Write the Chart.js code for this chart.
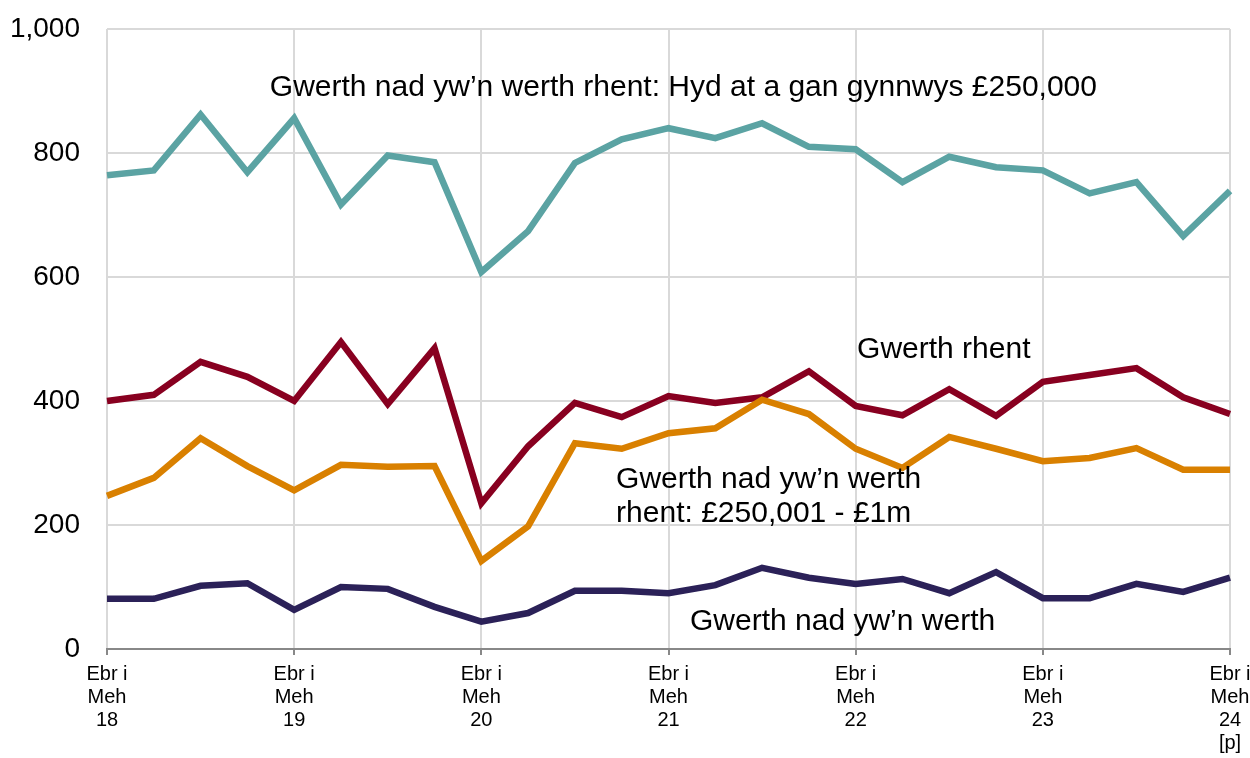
<!DOCTYPE html>
<html>
<head>
<meta charset="utf-8">
<script src="https://cdn.jsdelivr.net/npm/chart.js@4"></script>
<style>
  html, body { margin: 0; padding: 0; background: #fff; }
  #wrap { width: 1250px; height: 758px; }
</style>
</head>
<body>
<div id="wrap"><canvas id="chart" width="1250" height="758"></canvas></div>
<script>
// Quarters: Ebr i Meh 18 ... Ebr i Meh 24 [p]
const quarters = [
  'Ebr i Meh 18', 'Gor i Med 18', 'Hyd i Rha 18', 'Ion i Maw 19',
  'Ebr i Meh 19', 'Gor i Med 19', 'Hyd i Rha 19', 'Ion i Maw 20',
  'Ebr i Meh 20', 'Gor i Med 20', 'Hyd i Rha 20', 'Ion i Maw 21',
  'Ebr i Meh 21', 'Gor i Med 21', 'Hyd i Rha 21', 'Ion i Maw 22',
  'Ebr i Meh 22', 'Gor i Med 22', 'Hyd i Rha 22', 'Ion i Maw 23',
  'Ebr i Meh 23', 'Gor i Med 23', 'Hyd i Rha 23', 'Ion i Maw 24',
  'Ebr i Meh 24 [p]'
];

const tickLabels = {
  0: ['Ebr i', 'Meh', '18'],
  4: ['Ebr i', 'Meh', '19'],
  8: ['Ebr i', 'Meh', '20'],
  12: ['Ebr i', 'Meh', '21'],
  16: ['Ebr i', 'Meh', '22'],
  20: ['Ebr i', 'Meh', '23'],
  24: ['Ebr i', 'Meh', '24', '[p]']
};

const upTo250k = [764, 772, 862, 769, 856, 717, 796, 785, 608, 674, 784, 822, 840, 824, 848, 810, 806, 753, 794, 777, 772, 735, 753, 666, 739];
const rent = [400, 410, 463, 439, 400, 495, 395, 485, 235, 327, 397, 374, 408, 397, 406, 448, 392, 377, 419, 376, 431, 442, 453, 406, 379];
const from250kTo1m = [247, 276, 340, 295, 256, 297, 294, 295, 142, 198, 332, 323, 348, 356, 402, 379, 323, 292, 342, 323, 303, 308, 324, 289, 289];
const nonRent = [81, 81, 102, 106, 63, 100, 97, 68, 44, 58, 94, 94, 90, 103, 131, 115, 105, 113, 90, 124, 82, 82, 105, 92, 115];

const yTicks = [0, 200, 400, 600, 800, 1000];

// series labels placed on the plot (index along x, value along y)
const seriesLabels = [
  { lines: ['Gwerth nad yw\u2019n werth rhent: Hyd at a gan gynnwys \u00a3250,000'], at: 3.48, value: 905 },
  { lines: ['Gwerth rhent'], at: 16.03, value: 482 },
  { lines: ['Gwerth nad yw\u2019n werth', 'rhent: \u00a3250,001 - \u00a31m'], at: 10.88, value: 273 },
  { lines: ['Gwerth nad yw\u2019n werth'], at: 12.46, value: 44 }
];

const FONT = '"Liberation Sans", Arial, sans-serif';
const GRID = '#d9d9d9';

const labelPlugin = {
  id: 'seriesLabels',
  afterDatasetsDraw(chart) {
    const { ctx, scales: { x, y } } = chart;
    ctx.save();
    ctx.font = '30px ' + FONT;
    ctx.fillStyle = '#000';
    ctx.textAlign = 'left';
    ctx.textBaseline = 'middle';
    const lineGap = 34;
    seriesLabels.forEach((l) => {
      const px = x.getPixelForValue(l.at);
      const py = y.getPixelForValue(l.value);
      l.lines.forEach((t, i) => ctx.fillText(t, px, py + i * lineGap));
    });
    ctx.restore();
  }
};

const line = (data, color) => ({
  data,
  borderColor: color,
  backgroundColor: color,
  borderWidth: 6.5,
  pointRadius: 0,
  tension: 0,
  borderJoinStyle: 'miter',
  fill: false
});

new Chart(document.getElementById('chart'), {
  type: 'line',
  data: {
    labels: quarters,
    datasets: [
      line(upTo250k, '#5ba3a3'),
      line(nonRent, '#2b2158'),
      line(from250kTo1m, '#d98000'),
      line(rent, '#880020')
    ]
  },
  options: {
    responsive: false,
    animation: false,
    layout: { padding: { top: 29, right: 20, left: 0, bottom: 0 } },
    plugins: { legend: { display: false }, tooltip: { enabled: false } },
    scales: {
      x: {
        offset: false,
        grid: {
          color: (c) => (c.index % 4 === 0 ? GRID : 'rgba(0,0,0,0)'),
          lineWidth: 2,
          tickColor: (c) => (c.index % 4 === 0 ? '#888' : 'rgba(0,0,0,0)'),
          tickLength: 6,
          drawTicks: true
        },
        border: { color: '#888', width: 2 },
        ticks: {
          autoSkip: false,
          maxRotation: 0,
          padding: 8,
          color: '#000',
          font: { family: FONT, size: 20, lineHeight: 1.15 },
          callback: (v, i) => tickLabels[i] || ''
        },
        afterFit: (s) => { s.height = 109; s.paddingLeft = 0; s.paddingRight = 0; }
      },
      y: {
        min: 0,
        max: 1000,
        afterBuildTicks: (s) => { s.ticks = yTicks.map((v) => ({ value: v })); },
        grid: { color: GRID, lineWidth: 2, drawTicks: false },
        border: { display: false },
        ticks: {
          padding: 27,
          color: '#000',
          font: { family: FONT, size: 28 },
          callback: (v) => v.toLocaleString('en-GB')
        },
        afterFit: (s) => { s.width = 107; s.paddingTop = 0; s.paddingBottom = 0; }
      }
    }
  },
  plugins: [labelPlugin]
});
</script>
</body>
</html>
